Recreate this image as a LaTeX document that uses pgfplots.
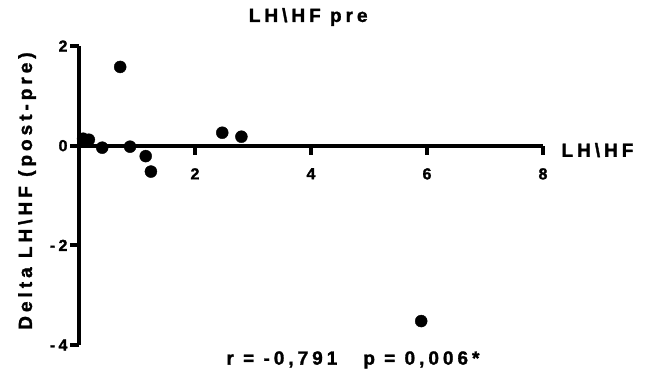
\documentclass[border=0pt]{standalone}
\usepackage{fontspec}
\setmainfont{Liberation Sans}[LetterSpace=21, BoldFeatures={FakeBold=1.5}]
\usepackage{pgfplots}
\pgfplotsset{compat=1.18}
\newcommand\labfont{\fontsize{19}{22}\selectfont\bfseries}
\begin{document}
\begin{tikzpicture}[x=1pt,y=1pt]
\useasboundingbox (-79,-25) rectangle (568,345);
\begin{axis}[
  at={(0,0)}, anchor=south west,
  scale only axis, width=464pt, height=299pt,
  xmin=0, xmax=8, ymin=-4, ymax=2,
  axis x line=middle, axis y line=left,
  axis line style={line width=4pt,-},
  every inner x axis line/.append style={line width=4pt,-},
  every outer y axis line/.append style={line width=4pt,-},
  clip=false,
  tick align=outside,
  major tick length=9pt,
  every tick/.style={line width=4pt, black},
  xtick={2,4,6,8}, ytick={-4,-2,0,2},
  /pgf/number format/assume math mode=true,
  ticklabel style={font=\fontsize{16}{18}\selectfont\bfseries},
  xticklabel style={yshift=-10pt},
  yticklabel style={xshift=1pt},
  xlabel={\labfont LH\textbackslash HF},
  xlabel style={at={(rel axis cs:1.1175,0.652)}, anchor=center},
  ylabel={\labfont Delta LH\textbackslash HF (post-pre)},
  ylabel style={at={(rel axis cs:-0.112,0.515)}, anchor=center, rotate=0},
]
\addplot[only marks, mark=*, mark size=6pt, black] coordinates {
  (0.07,0.14) (0.17,0.12) (0.40,-0.04) (0.71,1.58) (0.88,-0.02)
  (1.15,-0.21) (1.24,-0.52) (2.47,0.26) (2.80,0.18) (5.90,-3.52)
};
\node[anchor=center] at (rel axis cs:0.494,1.097) {\labfont LH\textbackslash HF pre};
\node[anchor=center] at (rel axis cs:0.5905,-0.050) {\labfont r = -0,791\hspace{26pt}p = 0,006*};
\end{axis}
\end{tikzpicture}
\end{document}
